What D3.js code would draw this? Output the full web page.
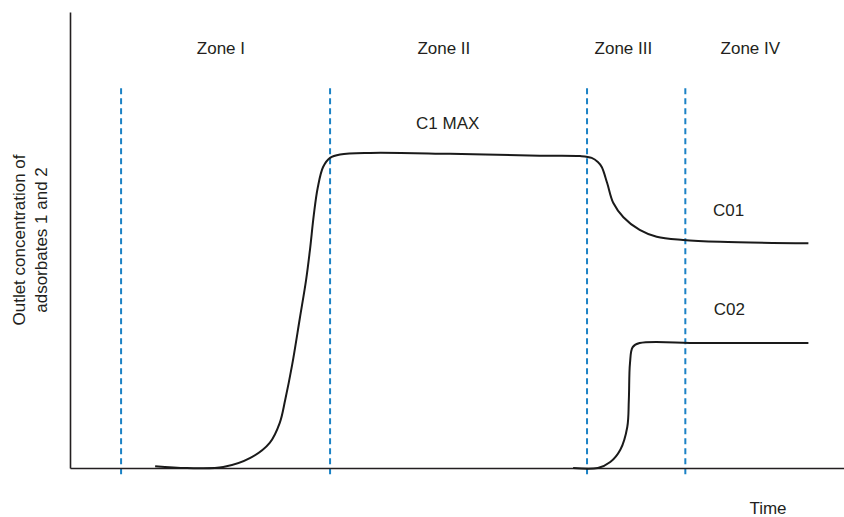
<!DOCTYPE html>
<html lang="en">
<head>
    <meta charset="UTF-8">
    <title>Breakthrough zones</title>
    <style>
        body { margin: 0; background: #fff; }
        text { font-family: "Liberation Sans", Arial, sans-serif; fill: #231f20; }
    </style>
</head>
<body>
    <div id="chart"></div>
    <script src="https://cdnjs.cloudflare.com/ajax/libs/d3/7.8.5/d3.min.js"></script>
    <script>
        // time and concentration are in arbitrary units (0-100)
        const zoneBounds = [6.6, 33.6, 66.8, 79.5];
        const zoneNames = ["Zone I", "Zone II", "Zone III", "Zone IV"];
        const zoneLabelX = [19.5, 48.3, 71.5, 87.9];

        const c1 = [
            [11.0, 0.4], [15.1, 0], [19.8, 0.2], [23.3, 2.2], [25.8, 5.5],
            [27.1, 9.9], [27.8, 14.9], [28.7, 22.6], [29.7, 32.9], [30.5, 41.2],
            [31.0, 47.8], [31.5, 55.5], [32.0, 61.4], [32.7, 66.0], [33.6, 68.0],
            [34.9, 68.75], [38.8, 69.1], [49.1, 68.9], [60.7, 68.5], [65.9, 68.4],
            [67.4, 68.0], [68.2, 67.1], [68.7, 66.0], [69.4, 62.5], [70.2, 58.1],
            [71.5, 55.0], [73.6, 52.2], [75.8, 50.7], [79.2, 50.0], [84.0, 49.6],
            [95.4, 49.3]
        ];
        const c2 = [
            [65.0, 0], [68.2, 0], [69.8, 1.3], [71.1, 4.0], [72.0, 9.0],
            [72.2, 14.9], [72.35, 23.0], [72.7, 26.5], [73.6, 27.4], [81.4, 27.4],
            [95.4, 27.4]
        ];

        const notes = [
            { text: "C1 MAX", t: 48.8, c: 74.3 },
            { text: "C01", t: 85.1, c: 55.3 },
            { text: "C02", t: 85.2, c: 33.6 }
        ];

        const width = 844, height = 517;
        const svg = d3.select("#chart").append("svg")
            .attr("width", width)
            .attr("height", height);

        const x = d3.scaleLinear().domain([0, 100]).range([70, 844]);
        const y = d3.scaleLinear().domain([0, 100]).range([468, 12]);

        // zone separators
        svg.selectAll(".zone")
            .data(zoneBounds)
            .join("line")
            .attr("x1", d => x(d)).attr("x2", d => x(d))
            .attr("y1", y(83.3)).attr("y2", y(-2.2))
            .attr("stroke", "#1b82c5")
            .attr("stroke-width", 2)
            .attr("stroke-dasharray", "6,4");

        // axes without ticks
        svg.append("g")
            .attr("transform", `translate(0,${y(0)})`)
            .call(d3.axisBottom(x).ticks(0).tickSizeOuter(0))
            .select(".domain").attr("stroke", "#231f20").attr("stroke-width", 1.6);
        svg.append("g")
            .attr("transform", `translate(${x(0)},0)`)
            .call(d3.axisLeft(y).ticks(0).tickSizeOuter(0))
            .select(".domain").attr("stroke", "#231f20").attr("stroke-width", 1.6);

        const line = d3.line()
            .x(d => x(d[0]))
            .y(d => y(d[1]))
            .curve(d3.curveCatmullRom.alpha(0.5));

        svg.selectAll(".curve")
            .data([c1, c2])
            .join("path")
            .attr("d", line)
            .attr("fill", "none")
            .attr("stroke", "#1a1a1a")
            .attr("stroke-width", 2);

        svg.selectAll(".zname")
            .data(zoneNames)
            .join("text")
            .attr("x", (d, i) => x(zoneLabelX[i]))
            .attr("y", y(90.8))
            .attr("text-anchor", "middle")
            .attr("font-size", 17)
            .text(d => d);

        svg.selectAll(".note")
            .data(notes)
            .join("text")
            .attr("x", d => x(d.t))
            .attr("y", d => y(d.c))
            .attr("text-anchor", "middle")
            .attr("font-size", 17)
            .text(d => d.text);

        svg.append("text")
            .attr("x", 768)
            .attr("y", 514)
            .attr("text-anchor", "middle")
            .attr("font-size", 17)
            .text("Time");

        const ylab = svg.append("text")
            .attr("transform", "translate(25,240) rotate(-90)")
            .attr("text-anchor", "middle")
            .attr("font-size", 17);
        ylab.append("tspan").attr("x", 0).attr("dy", 0).text("Outlet concentration of");
        ylab.append("tspan").attr("x", 0).attr("dy", 22).text("adsorbates 1 and 2");
    </script>
</body>
</html>
